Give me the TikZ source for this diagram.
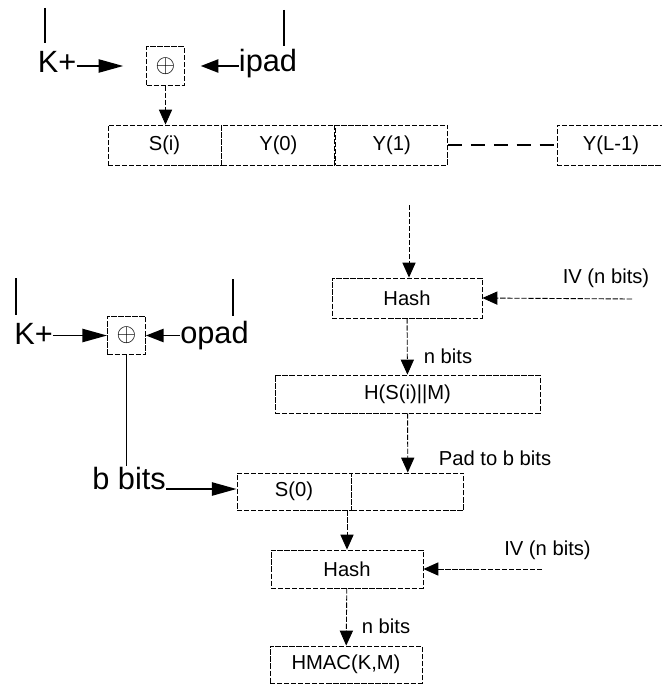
\documentclass[tikz,border=0pt]{standalone}
\usepackage{fontspec}
\setmainfont{Liberation Sans}
\usetikzlibrary{arrows.meta,positioning}

\begin{document}
\begin{tikzpicture}[
    x=0.02cm, y=-0.02cm,
    every node/.style={inner sep=0pt, font=\fontsize{11.5}{13}\selectfont},
    big/.style={font=\fontsize{17.5}{20}\selectfont},
    cell/.style={draw, dash pattern=on 3pt off 1pt, line width=0.5pt, minimum height=0.8cm},
    xorbox/.style={cell, minimum width=0.76cm, minimum height=0.77cm, font=\Large},
    flow/.style={dash pattern=on 3pt off 1pt, line width=0.5pt, -{Triangle[length=8.5pt,width=7.5pt]}},
    feed/.style={line width=1pt, -{Triangle[length=#1,width=7.5pt]}},
    feed/.default=14pt,
    tick/.style={line width=1pt}
]
    \useasboundingbox (0,0) rectangle (662,686);

    % inner padding
    \node[big] (kin) at (57,61.5) {K+};
    \node[xorbox] (xor1) at (165.5,66) {$\oplus$};
    \node[big] (ipad) at (268,64) {ipad};
    \coordinate (t1) at (45,8);
    \coordinate (t2) at (284,10);
    \draw[tick] (t1) -- ++(0,35);
    \draw[tick] (t2) -- ++(0,36);
    \draw[feed, shorten >=13pt] (kin.east |- xor1) -- (xor1);
    \draw[feed=10pt, shorten >=9pt] (ipad.west |- xor1) -- (xor1);

    % message blocks
    \node[cell, minimum width=2.26cm] (si) at (164.5,145) {S(i)};
    \node[cell, minimum width=2.26cm, right=0pt of si] (y0) {Y(0)};
    \node[cell, minimum width=2.24cm, right=0pt of y0] (y1) {Y(1)};
    \node[cell, minimum width=2.16cm] (yl) at (611,145) {Y(L-1)};
    \draw[flow] (xor1.south) -- (xor1.south |- si.north);
    \draw[line width=1.5pt, dash pattern=on 8pt off 5pt] (y1) -- (yl);

    % inner hash
    \coordinate (hin) at (409,205);
    \node[cell, minimum width=3cm] (hash1) at (407,298) {Hash};
    \node (iv1) at (606,278) {IV (n bits)};
    \coordinate (iv1t) at (632,299);
    \node[cell, minimum width=5.3cm, minimum height=0.76cm] (hm) at (407.5,394) {H(S(i)||M)};
    \node (nb1) at (448,356) {n bits};
    \draw[flow] (hin) -- (hin |- hash1.north);
    \draw[flow] (iv1t) -- (hash1.east);
    \draw[flow] (hash1) -- (hm);

    % outer padding
    \node[big] (kout) at (33.5,334) {K+};
    \node[xorbox] (xor2) at (126.5,335.5) {$\oplus$};
    \node[big] (opad) at (214.5,336) {opad};
    \coordinate (t3) at (16,278);
    \coordinate (t4) at (233,279);
    \draw[tick] (t3) -- ++(0,37);
    \draw[tick] (t4) -- ++(0,37);
    \draw[feed] (kout.east |- xor2) -- (xor2);
    \draw[feed=10pt] (opad.west |- xor2) -- (xor2);
    \node[big, anchor=base west] (bbits) at (92,489) {b bits};
    \draw[tick] (xor2.south) -- (xor2.south |- bbits.north);

    % outer hash
    \node[cell, minimum width=2.28cm, minimum height=0.74cm] (s0) at (294,491.5) {S(0)};
    \node[cell, minimum width=2.24cm, minimum height=0.74cm, right=0pt of s0] (padc) {};
    \node (padl) at (495,458) {Pad to b bits};
    \draw[feed] (bbits.base east) -- (bbits.base east -| s0.west);
    \draw[flow] (hm) -- (padc);
    \node[cell, minimum width=3.04cm, minimum height=0.76cm] (hash2) at (347,569) {Hash};
    \node (iv2) at (547.5,550) {IV (n bits)};
    \coordinate (iv2t) at (542,569);
    \node[cell, minimum width=3.04cm, minimum height=0.74cm] (hmac) at (346,664.5) {HMAC(K,M)};
    \node (nb2) at (386,626) {n bits};
    \draw[flow] (hash2.north |- s0.south) -- (hash2);
    \draw[flow] (iv2t) -- (hash2);
    \draw[flow] (hash2) -- (hmac);
\end{tikzpicture}
\end{document}
